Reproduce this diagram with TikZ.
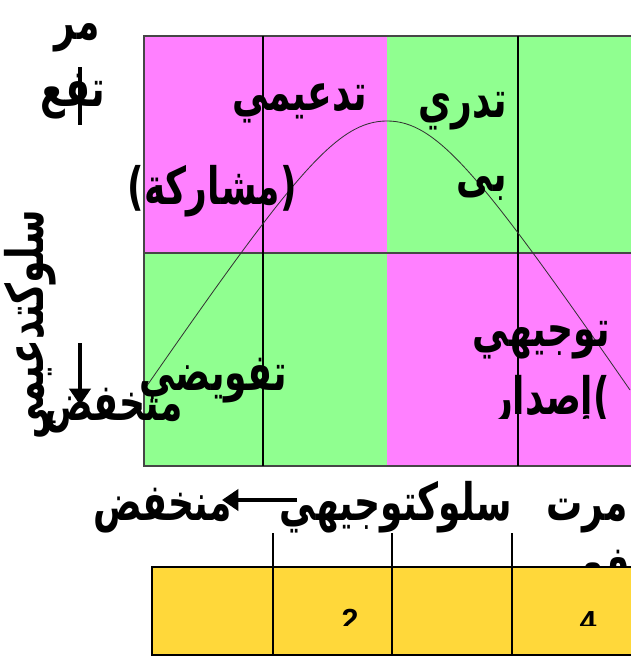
\documentclass[tikz,border=0pt]{standalone}
\usepackage{fontspec}
\newfontfamily\arabicfont[Script=Arabic, FakeStretch=0.7]{DejaVu Sans}
\newfontfamily\digitfont{Liberation Sans}
\TeXXeTstate=1
\usetikzlibrary{arrows.meta}
\definecolor{CCpink}{RGB}{255,128,255}
\definecolor{CCgreen}{RGB}{144,255,144}
\definecolor{CCyellow}{RGB}{255,216,58}
\definecolor{CCgrid}{RGB}{70,70,70}
\tikzset{
  lbl/.style={font=\arabicfont\bfseries\fontsize{44}{50}\selectfont, inner sep=0pt, anchor=base east},
  num/.style={font=\digitfont\bfseries\fontsize{26}{30}\selectfont, inner sep=0pt, anchor=north},
  axarrow/.style={line width=3.4pt, -{Triangle[length=14pt, width=18pt]}},
  tick/.style={line width=1pt}
}

\begin{document}
\begin{tikzpicture}[x=0.03cm, y=-0.03cm]
  \useasboundingbox (0,0) rectangle (630,657);
  % quadrants
  \fill[CCpink] (144,36) rectangle (387,253);
  \fill[CCgreen] (387,36) rectangle (640,253);
  \fill[CCgreen] (144,253) rectangle (387,466);
  \fill[CCpink] (387,253) rectangle (640,466);
  \draw[CCgrid, line width=1.5pt] (640,36) -- (144,36) -- (144,466) -- (640,466);
  \draw[CCgrid, line width=1.2pt] (144,253) -- (640,253);
  \draw[line width=1pt] (263,36) -- (263,466);
  \draw[line width=1pt] (518,36) -- (518,466);
  % bell curve
  \draw[black!80, line width=0.7pt] (144,390) .. controls (294,174) and (337,121) .. (387,121)
    .. controls (437,121) and (480,174) .. (630,390);
  % quadrant labels
  \node[lbl] (tadimi) at (367,111) {\beginR تدعيمي\endR};
  \node[lbl] (musharaka) at (297,205) {)\beginR مشاركة\endR(};
  \node[lbl] (tadri) at (507,118) {\beginR تدري\endR};
  \node[lbl] (tadribi) at (507,192) {\beginR بى\endR};
  \node[lbl] (tawjihi) at (610,346) {\beginR توجيهي\endR};
  \begin{scope}
    \clip (387,253) rectangle (640,418);
    \node[lbl] (isdar) at (610,414) {\beginR إصدار\endR)};
  \end{scope}
  \node[lbl] (tafwidi) at (287,390) {\beginR تفويضي\endR};
  % vertical axis
  \node[lbl] (murV) at (100,40) {\beginR مر\endR};
  \node[lbl] (tafaV) at (105,107) {\beginR تفع\endR};
  \coordinate (upB) at (80,125);
  \coordinate (upT) at (80,67);
  \draw[line width=3.4pt] (upB) -- (upT);
  \node[lbl, rotate=90] (sulukV) at (43,210) {\beginR سلوكتدعيمي\endR};
  \coordinate (dnT) at (80,343);
  \coordinate (dnB) at (80,405);
  \draw[axarrow] (dnT) -- (dnB);
  \node[lbl] (munV) at (183,420) {\beginR منخفض\endR};
  % horizontal axis
  \node[lbl] (munH) at (232,520) {\beginR منخفض\endR};
  \coordinate (ltR) at (297,500);
  \coordinate (ltL) at (222,500);
  \draw[axarrow] (ltR) -- (ltL);
  \node[lbl] (sulukH) at (512,520) {\beginR سلوكتوجيهي\endR};
  \node[lbl] (murH) at (628,520) {\beginR مرت\endR};
  \node[lbl] (tafaH) at (630,582) {\beginR فع\endR};
  % scale bar
  \draw[tick] (273,533) -- (273,567);
  \draw[tick] (392,533) -- (392,567);
  \draw[tick] (512,533) -- (512,567);
  \filldraw[fill=CCyellow, line width=1.6pt] (152,567) rectangle (640,655);
  \draw[tick] (273,567) -- (273,655);
  \draw[tick] (392,567) -- (392,655);
  \draw[tick] (512,567) -- (512,655);
  \begin{scope}
    \clip (152,567) rectangle (640,625);
    \node[num] (two) at (350,609) {2};
    \node[num] (four) at (588,611) {4};
  \end{scope}
\end{tikzpicture}
\end{document}
